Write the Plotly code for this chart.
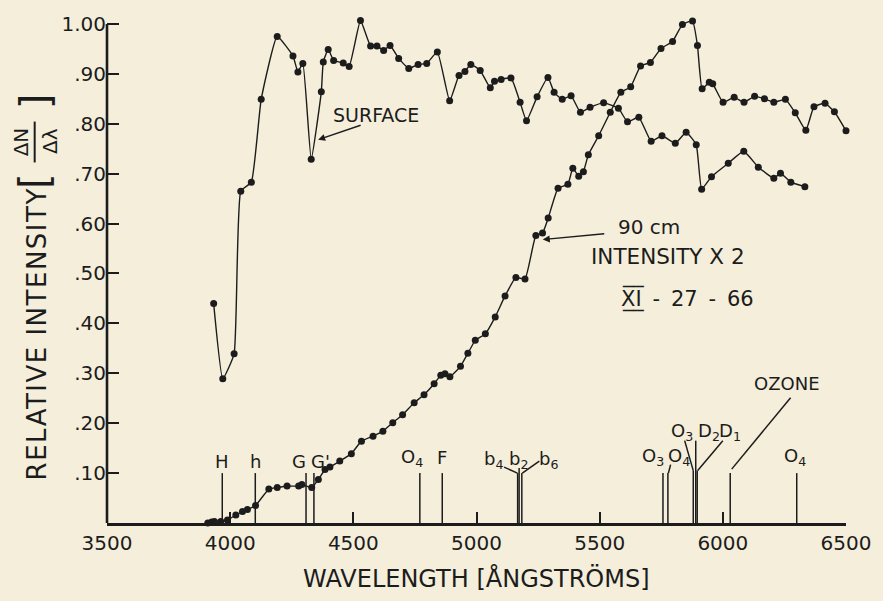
import plotly.graph_objects as go

# ---------------- data ----------------
surface_wl = [3933, 3970, 4016, 4043, 4086, 4126, 4191, 4255, 4275, 4295,
              4329, 4370, 4378, 4398, 4420, 4459, 4483, 4529, 4570, 4596,
              4623, 4649, 4684, 4725, 4763, 4798, 4841, 4891, 4929, 4953,
              4977, 5015, 5056, 5073, 5100, 5140, 5177, 5203, 5246, 5290,
              5315, 5348, 5384, 5422, 5461, 5516, 5576, 5613, 5659, 5709,
              5753, 5807, 5851, 5892, 5914, 5954, 6022, 6085, 6144, 6207,
              6234, 6276, 6333]
surface_val = [0.44, 0.289, 0.339, 0.665, 0.683, 0.849, 0.975, 0.936, 0.904, 0.921,
               0.729, 0.864, 0.924, 0.949, 0.927, 0.922, 0.915, 1.007, 0.956, 0.956,
               0.947, 0.957, 0.931, 0.911, 0.919, 0.921, 0.944, 0.846, 0.897, 0.905,
               0.919, 0.907, 0.872, 0.885, 0.889, 0.892, 0.843, 0.806, 0.854, 0.893,
               0.863, 0.849, 0.856, 0.823, 0.833, 0.842, 0.831, 0.804, 0.813, 0.765,
               0.776, 0.761, 0.783, 0.758, 0.669, 0.694, 0.721, 0.745, 0.713, 0.691,
               0.701, 0.683, 0.674]

deep_wl = [3909, 3925, 3936, 3962, 3989, 4023, 4050, 4070, 4103, 4157,
           4191, 4231, 4278, 4291, 4331, 4358, 4385, 4405, 4445, 4492,
           4533, 4580, 4620, 4660, 4700, 4747, 4787, 4828, 4855, 4872,
           4892, 4935, 4965, 4995, 5036, 5076, 5116, 5160, 5197, 5241,
           5268, 5291, 5331, 5371, 5391, 5415, 5434, 5454, 5496, 5543,
           5586, 5626, 5666, 5706, 5749, 5796, 5836, 5877, 5897, 5916,
           5945, 5959, 6001, 6046, 6086, 6129, 6169, 6207, 6254, 6294,
           6337, 6370, 6415, 6453, 6500]
deep_val = [0.0, 0.002, 0.003, 0.003, 0.006, 0.016, 0.023, 0.027, 0.035, 0.068,
            0.071, 0.074, 0.074, 0.077, 0.071, 0.087, 0.107, 0.112, 0.124, 0.139,
            0.164, 0.174, 0.184, 0.201, 0.217, 0.241, 0.257, 0.279, 0.296, 0.299,
            0.293, 0.314, 0.340, 0.366, 0.379, 0.413, 0.455, 0.492, 0.489, 0.576,
            0.581, 0.611, 0.671, 0.679, 0.711, 0.695, 0.704, 0.738, 0.776, 0.823,
            0.863, 0.874, 0.916, 0.923, 0.951, 0.965, 0.999, 1.006, 0.957, 0.870,
            0.883, 0.880, 0.843, 0.853, 0.843, 0.855, 0.850, 0.843, 0.849, 0.822,
            0.787, 0.834, 0.841, 0.824, 0.786]

# Fraunhofer / absorption lines
line_wl = [3968, 4102, 4308, 4340, 4770, 4861, 5167, 5173, 5184,
           5757, 5777, 5880, 5890, 5896, 6030, 6300]
line_top = [0.10, 0.10, 0.10, 0.10, 0.10, 0.10, 0.10, 0.10, 0.10,
            0.10, 0.10, 0.105, 0.165, 0.105, 0.10, 0.10]

label_text = ["H", "h", "G", "G'", "O<sub>4</sub>", "F",
              "b<sub>4</sub>", "b<sub>2</sub>", "b<sub>6</sub>",
              "O<sub>3</sub>", "O<sub>4</sub>",
              "O<sub>3</sub>", "D<sub>2</sub>", "D<sub>1</sub>",
              "OZONE", "O<sub>4</sub>"]
label_wl = [3968, 4102, 4278, 4368, 4740, 4861,
            5068, 5172, 5293,
            5716, 5822,
            5834, 5944, 6030,
            6262, 6292]
label_val = [0.123, 0.123, 0.123, 0.123, 0.131, 0.131,
             0.127, 0.127, 0.127,
             0.133, 0.133,
             0.183, 0.183, 0.183,
             0.279, 0.133]

# leader strokes from labels to line tops: (wl0, v0, wl1, v1)
leaders = [(5112, 0.112, 5166, 0.100),
           (5173, 0.100, 5173, 0.110),
           (5255, 0.124, 5186, 0.100),
           (5779, 0.100, 5788, 0.117),
           (5845, 0.165, 5880, 0.105),
           (6000, 0.165, 5898, 0.105),
           (6275, 0.251, 6036, 0.108)]

x_ticks = [3500, 4000, 4500, 5000, 5500, 6000, 6500]
y_ticks = [0.1, 0.2, 0.3, 0.4, 0.5, 0.6, 0.7, 0.8, 0.9, 1.0]
y_ticktext = [".10", ".20", ".30", ".40", ".50", ".60", ".70", ".80", ".90", "1.00"]

# ---------------- figure ----------------
BG = "#f4eedb"
INK = "#1c1c1c"
FONT = "DejaVu Sans"

fig = go.Figure()

for wl, val in ((surface_wl, surface_val), (deep_wl, deep_val)):
    fig.add_trace(go.Scatter(
        x=wl, y=val, mode="lines+markers",
        line=dict(color=INK, width=1.4, shape="spline", smoothing=0.4),
        marker=dict(color=INK, size=7),
        cliponaxis=False, hoverinfo="skip"))

lx, ly = [], []
for w, t in zip(line_wl, line_top):
    lx += [w, w, None]
    ly += [0, t, None]
for a, b, c, d in leaders:
    lx += [a, c, None]
    ly += [b, d, None]
fig.add_trace(go.Scatter(x=lx, y=ly, mode="lines",
                         line=dict(color=INK, width=1.5),
                         cliponaxis=False, hoverinfo="skip"))

ann = []
for t, w, v in zip(label_text, label_wl, label_val):
    ann.append(dict(x=w, y=v, xref="x", yref="y", text=t, showarrow=False,
                    font=dict(family=FONT, size=18, color=INK),
                    xanchor="center", yanchor="middle"))

# curve annotations
ann.append(dict(x=4590, y=0.818, text="SURFACE", showarrow=False,
                font=dict(family=FONT, size=19, color=INK)))
ann.append(dict(x=4357, y=0.768, text="", showarrow=True, ax=44, ay=-15,
                arrowhead=2, arrowsize=1, arrowwidth=1.4, arrowcolor=INK))
ann.append(dict(x=5700, y=0.594, text="90 cm", showarrow=False,
                font=dict(family=FONT, size=20, color=INK)))
ann.append(dict(x=5269, y=0.568, text="", showarrow=True, ax=63, ay=-6,
                arrowhead=2, arrowsize=1, arrowwidth=1.4, arrowcolor=INK))
ann.append(dict(x=5776, y=0.534, text="INTENSITY X 2", showarrow=False,
                font=dict(family=FONT, size=21.5, color=INK)))
ann.append(dict(x=5856, y=0.449, text="X\u0305\u0332I\u0305\u0332 \u2009-\u2009 27 \u2009-\u2009 66",
                showarrow=False, font=dict(family=FONT, size=21, color=INK)))

# axis titles
ann.append(dict(x=0.5, y=-0.11, xref="paper", yref="paper",
                text="WAVELENGTH [ÅNGSTRÖMS]", showarrow=False,
                font=dict(family=FONT, size=24, color=INK),
                xanchor="center", yanchor="middle"))


def px(xp):
    return (xp - 107) / 746.0


def py(yp):
    return (523 - yp) / 507.0


ann.append(dict(x=px(36), y=py(333), xref="paper", yref="paper",
                text="<span style='letter-spacing:1.5px'>RELATIVE INTENSITY</span>",
                textangle=-90, showarrow=False,
                font=dict(family=FONT, size=26, color=INK),
                xanchor="center", yanchor="middle"))
ann.append(dict(x=px(34), y=py(180), xref="paper", yref="paper",
                text="[", textangle=-90, showarrow=False,
                font=dict(family=FONT, size=40, color=INK),
                xanchor="center", yanchor="middle"))
ann.append(dict(x=px(34), y=py(100), xref="paper", yref="paper",
                text="]", textangle=-90, showarrow=False,
                font=dict(family=FONT, size=40, color=INK),
                xanchor="center", yanchor="middle"))
ann.append(dict(x=px(20), y=py(140), xref="paper", yref="paper",
                text="ΔN", textangle=-90, showarrow=False,
                font=dict(family=FONT, size=20, color=INK),
                xanchor="center", yanchor="middle"))
ann.append(dict(x=px(49), y=py(140), xref="paper", yref="paper",
                text="Δλ", textangle=-90, showarrow=False,
                font=dict(family=FONT, size=20, color=INK),
                xanchor="center", yanchor="middle"))

shapes = [
    dict(type="line", xref="paper", yref="paper",
         x0=px(34), x1=px(34), y0=py(120), y1=py(161),
         line=dict(color=INK, width=2)),
    # y-axis spine from 0 to 1.00 only
    dict(type="line", xref="paper", yref="y", x0=0, x1=0, y0=0, y1=1.0,
         line=dict(color=INK, width=2.6)),
]

fig.update_layout(
    width=883, height=601,
    margin=dict(l=107, r=30, t=16, b=78),
    paper_bgcolor=BG, plot_bgcolor=BG,
    showlegend=False,
    annotations=ann, shapes=shapes,
    xaxis=dict(range=[3500, 6500], tickvals=x_ticks,
               showline=True, linewidth=2.6, linecolor=INK,
               ticks="inside", ticklen=11, tickwidth=2, tickcolor=INK,
               tickfont=dict(family=FONT, size=20, color=INK),
               ticklabelstandoff=0,
               showgrid=False, zeroline=False),
    yaxis=dict(range=[0, 1.012], tickvals=y_ticks, ticktext=y_ticktext,
               showline=False,
               ticks="inside", ticklen=12, tickwidth=2, tickcolor=INK,
               tickfont=dict(family=FONT, size=20, color=INK),
               ticklabelstandoff=0,
               showgrid=False, zeroline=False),
)

fig.write_html(
    "out.html",
    config={"displayModeBar": False},
    post_script="document.body.style.margin='0';document.body.style.background='%s';" % BG,
)
